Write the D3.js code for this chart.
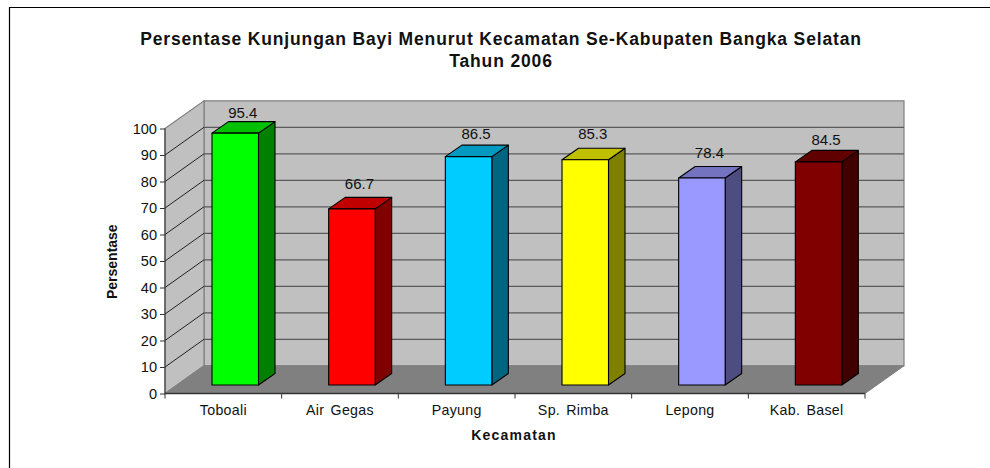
<!DOCTYPE html>
<html><head><meta charset="utf-8">
<script src="https://cdnjs.cloudflare.com/ajax/libs/d3/7.8.5/d3.min.js"></script>
<style>html,body{margin:0;padding:0;background:#fff}svg{display:block}text{font-family:"Liberation Sans",Arial,sans-serif;fill:#111}</style>
</head><body><svg id="c" width="990" height="468"></svg>
<script>
const categories=["Toboali","Air Gegas","Payung","Sp. Rimba","Lepong","Kab. Basel"];
const values=[95.4,66.7,86.5,85.3,78.4,84.5];
const frontColors=["#00ff00","#ff0000","#00ccff","#ffff00","#9999ff","#800000"];
const topColors=["#00c000","#c00000","#0099c0","#c0c000","#7373c0","#600000"];
const sideColors=["#008000","#800000","#006680","#808000","#4d4d80","#400000"];
const yTicks=d3.range(0,101,10);
const titleLines=["Persentase Kunjungan Bayi Menurut Kecamatan Se-Kabupaten Bangka Selatan","Tahun 2006"];

const svg=d3.select("#c");
const dx=39,dy=-27.7,bdx=16.5,bdy=-11.5;
const labelGaps=[3.7,8.7,5.7,9,9,5.7];
const x=d3.scaleBand().domain(categories).range([165,865]).paddingInner(0).paddingOuter(0);
const y=d3.scaleLinear().domain([0,100]).range([393.5,128.5]);
const barH=d3.scaleLinear().domain([0,100]).range([0,264]);
const poly=p=>p.map(a=>a.join(",")).join(" ");
const wall="#c0c0c0",edge="#808080",grid="#5a5a5a";

// outer frame
svg.append("path").attr("d","M9.5,468V7.5H990").attr("fill","none").attr("stroke","#000").attr("stroke-width",1.2);

// walls and floor
const x0=x.range()[0],x1=x.range()[1],y0=y(0),y100=y(100);
svg.append("polygon").attr("points",poly([[x0+dx,y100+dy],[x1+dx,y100+dy],[x1+dx,y0+dy],[x0+dx,y0+dy]]))
  .attr("fill",wall).attr("stroke",edge).attr("stroke-width",1.2);
svg.append("polygon").attr("points",poly([[x0,y100],[x0+dx,y100+dy],[x0+dx,y0+dy],[x0,y0]]))
  .attr("fill",wall).attr("stroke",edge).attr("stroke-width",1.2);
svg.append("polygon").attr("points",poly([[x0,y0],[x0+dx,y0+dy],[x1+dx,y0+dy],[x1,y0]]))
  .attr("fill","#808080").attr("stroke",edge);

// gridlines
svg.append("g").selectAll("path").data(yTicks.filter(d=>d>0&&d<100)).join("path")
  .attr("d",d=>`M${x0+dx},${y(d)+dy}H${x1+dx}`).attr("fill","none").attr("stroke",grid).attr("stroke-width",1.3);
svg.append("g").selectAll("path").data(yTicks.filter(d=>d>0&&d<100)).join("path")
  .attr("d",d=>`M${x0},${y(d)}L${x0+dx},${y(d)+dy}`).attr("fill","none").attr("stroke","#222").attr("stroke-width",1);

// axes
const yAxis=d3.axisLeft(y).tickValues(yTicks).tickSize(5).tickPadding(3);
const gy=svg.append("g").attr("transform",`translate(${x0},0)`).call(yAxis);
gy.select(".domain").attr("stroke","#333").attr("d",`M0,${y100}V${y0}`);
gy.selectAll("line").attr("stroke","#333");
gy.selectAll("text").attr("font-size",14.6).attr("font-family","Liberation Sans").attr("fill","#222");
const xAxis=d3.axisBottom(x).tickSize(0).tickPadding(11.5);
const gx=svg.append("g").attr("transform",`translate(0,${y0})`).call(xAxis);
gx.select(".domain").attr("stroke","#333").attr("stroke-width",1.5).attr("d",`M${x0},0H${x1}`);
gx.selectAll("text").attr("font-size",14.2).attr("font-family","Liberation Sans").attr("fill","#222").attr("letter-spacing",.3).attr("word-spacing",2);
gx.selectAll(".edge").data(d3.range(categories.length+1)).join("line").attr("class","edge")
  .attr("x1",i=>x0+i*x.step()).attr("x2",i=>x0+i*x.step()).attr("y1",0).attr("y2",5).attr("stroke","#333");

// bars
const baseY=385,offset=47,bw=46.5;
const bars=svg.append("g").selectAll("g").data(categories).join("g").attr("stroke","#000").attr("stroke-width",1.1).attr("stroke-linejoin","round");
bars.each(function(c,i){
  const g=d3.select(this),l=x(c)+offset,r=l+bw,t=baseY-barH(values[i]);
  g.append("polygon").attr("points",poly([[r,t],[r+bdx,t+bdy],[r+bdx,baseY+bdy],[r,baseY]])).attr("fill",sideColors[i]);
  g.append("polygon").attr("points",poly([[l,t],[l+bdx,t+bdy],[r+bdx,t+bdy],[r,t]])).attr("fill",topColors[i]);
  g.append("rect").attr("x",l).attr("y",t).attr("width",bw).attr("height",baseY-t).attr("fill",frontColors[i]);
});
svg.selectAll("text.lbl").data(values).join("text").attr("class","lbl")
  .attr("x",(d,i)=>x(categories[i])+offset+bw/2+7.5)
  .attr("y",(d,i)=>baseY-barH(d)+bdy-labelGaps[i])
  .attr("text-anchor","middle").attr("font-size",15).attr("fill","#222").text(d=>d.toFixed(1));

// titles
svg.selectAll("text.ttl").data(titleLines).join("text").attr("class","ttl")
  .attr("x",501).attr("y",(d,i)=>45+i*22).attr("text-anchor","middle")
  .attr("font-size",17.5).attr("font-weight","bold").attr("letter-spacing",.85).attr("fill","#000").text(d=>d);
svg.append("text").attr("transform","translate(117,261.7) rotate(-90)").attr("text-anchor","middle")
  .attr("font-size",14).attr("font-weight","bold").attr("fill","#111").text("Persentase");
svg.append("text").attr("x",514).attr("y",440).attr("text-anchor","middle")
  .attr("font-size",14).attr("font-weight","bold").attr("fill","#111").attr("letter-spacing",1.2).text("Kecamatan");
</script></body></html>
